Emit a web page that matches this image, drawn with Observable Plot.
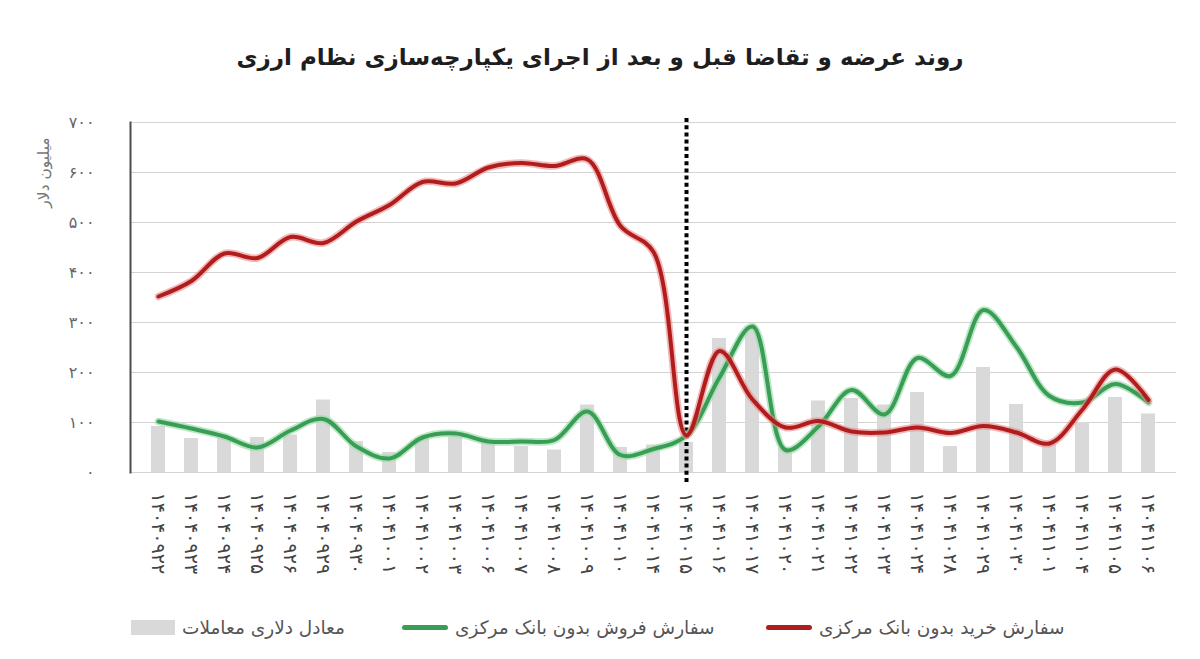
<!DOCTYPE html>
<html lang="fa">
<head>
<meta charset="utf-8">
<script src="https://cdn.jsdelivr.net/npm/d3@7"></script>
<script src="https://cdn.jsdelivr.net/npm/@observablehq/plot@0.6"></script>
<style>
  html, body { margin: 0; padding: 0; background: #fff; }
  #wrap { width: 1200px; height: 659px; position: relative; overflow: hidden; font-family: "DejaVu Sans", sans-serif; }
  #title { height: 100px; box-sizing: border-box; padding-top: 44px; text-align: center; font-size: 23px; font-weight: bold; color: #1e1e1e; }
  #chart { height: 490px; }
  #legend { position: relative; height: 69px; }
  .item { position: absolute; top: 27px; display: flex; align-items: center; gap: 7px; font-size: 18.5px; color: #555; }
  .item span.t { direction: rtl; }
  .sw-bar { width: 44px; height: 15px; background: #d9d9d9; }
  .sw-line { width: 46px; height: 5px; border-radius: 3px; }
</style>
</head>
<body>
<div id="wrap">
  <div id="title" dir="rtl"></div>
  <div id="chart"></div>
  <div id="legend"></div>
</div>
<script>
// ---- data ----
const titleText = "روند عرضه و تقاضا قبل و بعد از اجرای یکپارچه‌سازی نظام ارزی";
const yLabel = "میلیون دلار";
const dates = ["۱۴۰۴۰۹۲۲","۱۴۰۴۰۹۲۳","۱۴۰۴۰۹۲۴","۱۴۰۴۰۹۲۵","۱۴۰۴۰۹۲۶","۱۴۰۴۰۹۲۹","۱۴۰۴۰۹۳۰",
  "۱۴۰۴۱۰۰۱","۱۴۰۴۱۰۰۲","۱۴۰۴۱۰۰۳","۱۴۰۴۱۰۰۶","۱۴۰۴۱۰۰۷","۱۴۰۴۱۰۰۸","۱۴۰۴۱۰۰۹","۱۴۰۴۱۰۱۰",
  "۱۴۰۴۱۰۱۴","۱۴۰۴۱۰۱۵","۱۴۰۴۱۰۱۶","۱۴۰۴۱۰۱۷","۱۴۰۴۱۰۲۰","۱۴۰۴۱۰۲۱","۱۴۰۴۱۰۲۲","۱۴۰۴۱۰۲۳",
  "۱۴۰۴۱۰۲۴","۱۴۰۴۱۰۲۸","۱۴۰۴۱۰۲۹","۱۴۰۴۱۰۳۰","۱۴۰۴۱۱۰۱","۱۴۰۴۱۱۰۴","۱۴۰۴۱۱۰۵","۱۴۰۴۱۱۰۶"];
// سفارش خرید بدون بانک مرکزی (red)
const buyOrders = [352, 383, 438, 429, 471, 459, 502, 535, 581, 578, 610, 619, 613, 626, 493, 441,
  74, 243, 146, 90, 103, 82, 80, 90, 79, 93, 80, 58, 126, 206, 145];
// سفارش فروش بدون بانک مرکزی (green)
const sellOrders = [102, 88, 72, 50, 84, 107, 52, 28, 70, 78, 62, 62, 65, 122, 35, 47,
  74, 190, 292, 45, 92, 165, 116, 229, 193, 325, 251, 153, 140, 177, 140];
// معادل دلاری معاملات (gray bars)
const volumes = [92, 68, 72, 70, 75, 145, 62, 40, 70, 72, 60, 52, 45, 135, 50, 55,
  60, 268, 288, 50, 143, 148, 135, 160, 52, 210, 136, 56, 100, 150, 117];
const policyDate = "۱۴۰۴۱۰۱۵";
const yTicks = [0, 100, 200, 300, 400, 500, 600, 700];
const yTickLabels = ["۰", "۱۰۰", "۲۰۰", "۳۰۰", "۴۰۰", "۵۰۰", "۶۰۰", "۷۰۰"];
const seriesNames = ["سفارش خرید بدون بانک مرکزی", "سفارش فروش بدون بانک مرکزی", "معادل دلاری معاملات"];
const colors = { buy: "#b11d1d", buyGlow: "#e88a8a", sell: "#389e55", sellGlow: "#9fdcab", bar: "#d9d9d9" };

const rows = dates.map((d, i) => ({ date: d, buy: buyOrders[i], sell: sellOrders[i], vol: volumes[i] }));

document.getElementById("title").textContent = titleText;

const chart = Plot.plot({
  width: 1200,
  height: 490,
  marginTop: 22,
  marginBottom: 118,
  marginLeft: 130,
  marginRight: 24,
  style: { fontFamily: "DejaVu Sans, sans-serif", fontSize: "14px", color: "#5a5a5a", background: "white", direction: "ltr" },
  x: { type: "band", domain: dates, paddingInner: 0.58, paddingOuter: 0.29 },
  y: { domain: [0, 700] },
  marks: [
    Plot.gridY(yTicks, { stroke: "#d4d4d4", strokeOpacity: 1, strokeWidth: 1.2 }),
    Plot.barY(rows, { x: "date", y: "vol", fill: colors.bar }),
    Plot.axisX({ tickSize: 0, tickRotate: 90, tickPadding: 20, fontSize: 19, label: null, fill: "#444",
      tickFormat: d => "\u202D" + d + "\u202C" }),
    Plot.axisY(yTicks, { tickSize: 0, tickPadding: 36, fontSize: 16, label: null, fill: "#666",
      tickFormat: d => yTickLabels[yTicks.indexOf(d)] }),
    Plot.frame({ anchor: "left", stroke: "#4d4d4d", strokeWidth: 2 }),
    Plot.text([yLabel], { frameAnchor: "top-left", dx: -86, dy: 50, rotate: -90,
      textAnchor: "middle", lineAnchor: "middle", fontSize: 15.5, fill: "#777" }),
    Plot.ruleX([policyDate], { y1: 700, y2: 0, stroke: "#000", strokeWidth: 4,
      strokeDasharray: "4,3.2", insetTop: -4, insetBottom: -12 }),
    Plot.line(rows, { x: "date", y: "sell", stroke: colors.sellGlow, strokeWidth: 7.5, curve: "catmull-rom", strokeOpacity: 0.7 }),
    Plot.line(rows, { x: "date", y: "sell", stroke: colors.sell, strokeWidth: 4, curve: "catmull-rom" }),
    Plot.line(rows, { x: "date", y: "buy", stroke: colors.buyGlow, strokeWidth: 7.5, curve: "catmull-rom", strokeOpacity: 0.6 }),
    Plot.line(rows, { x: "date", y: "buy", stroke: colors.buy, strokeWidth: 4, curve: "catmull-rom" })
  ]
});
document.getElementById("chart").appendChild(chart);

// legend (left to right: bars, sell, buy)
const legend = document.getElementById("legend");
const items = [
  { left: 131, sw: "bar", color: colors.bar, text: seriesNames[2] },
  { left: 402, sw: "line", color: colors.sell, text: seriesNames[1] },
  { left: 766, sw: "line", color: colors.buy, text: seriesNames[0] }
];
for (const it of items) {
  const div = document.createElement("div");
  div.className = "item";
  div.style.left = it.left + "px";
  const sw = document.createElement("div");
  sw.className = it.sw === "bar" ? "sw-bar" : "sw-line";
  sw.style.background = it.color;
  const t = document.createElement("span");
  t.className = "t";
  t.textContent = it.text;
  div.appendChild(sw);
  div.appendChild(t);
  legend.appendChild(div);
}
</script>
</body>
</html>
